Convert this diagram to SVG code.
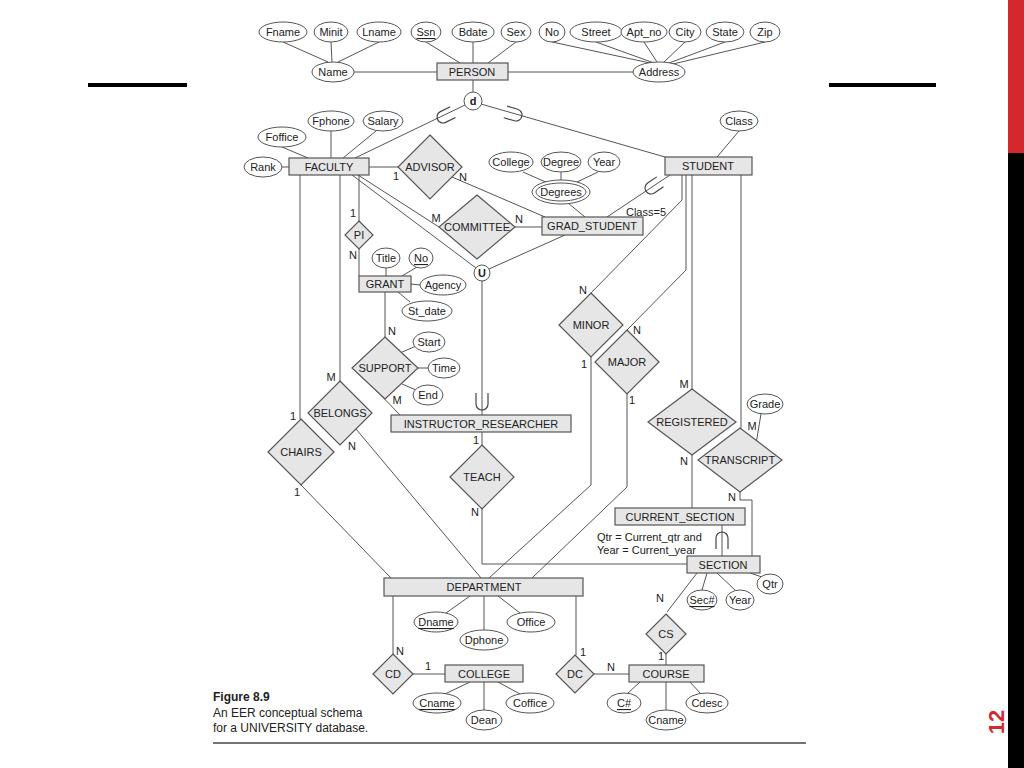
<svg xmlns="http://www.w3.org/2000/svg" width="1024" height="768" viewBox="0 0 1024 768">
<style>
text{font-family:"Liberation Sans",Arial,sans-serif;font-size:11px;fill:#222;text-anchor:middle;dominant-baseline:central}
.l{text-anchor:start}
.ent{fill:#e6e6e6;stroke:#555;stroke-width:1.2}
.rel{fill:#e6e6e6;stroke:#555;stroke-width:1.2}
.att{fill:#fff;stroke:#555;stroke-width:1}
line,polyline,path.c{stroke:#555;stroke-width:1;fill:none}
.u{stroke:#444;stroke-width:1.2;fill:none}
.card{font-size:10px}
</style>
<defs><path id="sub" d="M-6,-11 L-6,0 A6,6 0 0 0 6,0 L6,-11" class="u"/></defs>
<rect width="1024" height="768" fill="#fff"/>
<rect x="1008" y="0" width="16" height="153" fill="#d2282e"/>
<rect x="1008" y="153" width="16" height="615" fill="#000"/>
<text x="996" y="722" transform="rotate(-90 996 722)" style="font-size:22px;font-weight:bold;fill:#d2282e">12</text>
<rect x="88" y="83" width="99" height="4" fill="#000"/>
<rect x="829" y="83" width="107" height="4" fill="#000"/>
<g id="connectors">
<line x1="283" y1="42" x2="328" y2="62"/><line x1="331" y1="42" x2="332" y2="62"/><line x1="379" y1="42" x2="338" y2="62"/>
<line x1="426" y1="42" x2="460" y2="63"/><line x1="473" y1="42" x2="473" y2="63"/><line x1="516" y1="42" x2="488" y2="63"/>
<line x1="552" y1="42" x2="650" y2="63"/><line x1="596" y1="42" x2="654" y2="63"/><line x1="644" y1="42" x2="657" y2="62"/><line x1="685" y1="42" x2="664" y2="62"/><line x1="725" y1="42" x2="669" y2="63"/><line x1="765" y1="42" x2="673" y2="64"/>
<line x1="354" y1="72" x2="437" y2="72"/><line x1="508" y1="72" x2="633" y2="72"/>
<line x1="473" y1="80" x2="473" y2="92"/>
<line x1="465" y1="105" x2="355" y2="158"/><line x1="481" y1="104" x2="665" y2="157"/>
<line x1="282" y1="147" x2="308" y2="158"/><line x1="331" y1="131" x2="331" y2="158"/><line x1="376" y1="131" x2="343" y2="158"/><line x1="282" y1="167" x2="289" y2="167"/>
<line x1="739" y1="131" x2="717" y2="157"/>
<line x1="369" y1="167" x2="398" y2="167"/>
<line x1="452" y1="177" x2="545" y2="217"/>
<line x1="358" y1="175" x2="439" y2="227"/><line x1="515" y1="227" x2="542" y2="227"/>
<line x1="352" y1="175" x2="476" y2="268"/><line x1="565" y1="235" x2="489" y2="269"/>
<line x1="670" y1="175" x2="607" y2="217"/>
<line x1="523" y1="172" x2="548" y2="183"/><line x1="561" y1="172" x2="561" y2="181"/><line x1="598" y1="172" x2="575" y2="183"/>
<line x1="568" y1="203" x2="585" y2="217"/>
<line x1="482" y1="281" x2="482" y2="415"/>
<line x1="359" y1="175" x2="359" y2="221"/><line x1="359" y1="249" x2="359" y2="276"/>
<line x1="386" y1="268" x2="386" y2="276"/><line x1="417" y1="267" x2="402" y2="276"/><line x1="411" y1="284" x2="420" y2="285"/><line x1="398" y1="292" x2="410" y2="302"/>
<line x1="385" y1="292" x2="385" y2="337"/>
<line x1="400" y1="353" x2="416" y2="346"/><line x1="418" y1="368" x2="428" y2="368"/><line x1="402" y1="384" x2="416" y2="390"/>
<line x1="373" y1="387" x2="400" y2="415"/>
<line x1="340" y1="175" x2="340" y2="381"/><line x1="356" y1="429" x2="481" y2="578"/>
<line x1="300" y1="175" x2="300" y2="419"/><line x1="301" y1="485" x2="391" y2="578"/>
<line x1="482" y1="432" x2="482" y2="445"/>
<polyline points="482,509 482,564 687,564"/>
<polyline points="682,175 682,200 591,293"/><polyline points="591,357 591,485 489,578"/>
<polyline points="686,175 686,270 627,330"/><polyline points="627,394 627,487 532,578"/>
<line x1="692" y1="175" x2="692" y2="389"/><line x1="692" y1="455" x2="692" y2="508"/>
<line x1="741" y1="175" x2="741" y2="428"/><line x1="761" y1="414" x2="756" y2="444"/>
<polyline points="740,492 740,500 752,500 752,556"/>
<line x1="722" y1="525" x2="722" y2="556"/>
<line x1="697" y1="573" x2="667" y2="612"/><line x1="707" y1="573" x2="702" y2="590"/><line x1="717" y1="573" x2="735" y2="590"/><line x1="750" y1="573" x2="762" y2="577"/>
<line x1="666" y1="654" x2="666" y2="665"/>
<line x1="640" y1="682" x2="628" y2="693"/><line x1="666" y1="682" x2="666" y2="710"/><line x1="690" y1="682" x2="700" y2="693"/>
<line x1="576" y1="596" x2="576" y2="655"/><line x1="594" y1="674" x2="629" y2="674"/>
<line x1="393" y1="596" x2="393" y2="654"/><line x1="413" y1="674" x2="445" y2="674"/>
<line x1="470" y1="682" x2="445" y2="694"/><line x1="484" y1="682" x2="484" y2="710"/><line x1="498" y1="682" x2="520" y2="694"/>
<line x1="470" y1="596" x2="446" y2="613"/><line x1="484" y1="596" x2="484" y2="630"/><line x1="498" y1="596" x2="520" y2="613"/>
<use href="#sub" transform="translate(443 117) rotate(64)"/>
<use href="#sub" transform="translate(516 115) rotate(-74)"/>
<use href="#sub" transform="translate(651 188) rotate(56)"/>
<use href="#sub" transform="translate(482 404)"/>
<use href="#sub" transform="translate(722 538) rotate(180)"/>
</g>
<g id="attributes">
<ellipse class="att" cx="283" cy="32" rx="24" ry="10"/><text x="283" y="32">Fname</text>
<ellipse class="att" cx="331" cy="32" rx="17" ry="10"/><text x="331" y="32">Minit</text>
<ellipse class="att" cx="379" cy="32" rx="22" ry="10"/><text x="379" y="32">Lname</text>
<ellipse class="att" cx="426" cy="32" rx="15" ry="10"/><text x="426" y="32" text-decoration="underline">Ssn</text>
<ellipse class="att" cx="473" cy="32" rx="21" ry="10"/><text x="473" y="32">Bdate</text>
<ellipse class="att" cx="516" cy="32" rx="15" ry="10"/><text x="516" y="32">Sex</text>
<ellipse class="att" cx="552" cy="32" rx="13" ry="10"/><text x="552" y="32">No</text>
<ellipse class="att" cx="596" cy="32" rx="26" ry="10"/><text x="596" y="32">Street</text>
<ellipse class="att" cx="644" cy="32" rx="23" ry="10"/><text x="644" y="32">Apt_no</text>
<ellipse class="att" cx="685" cy="32" rx="16" ry="10"/><text x="685" y="32">City</text>
<ellipse class="att" cx="725" cy="32" rx="19" ry="10"/><text x="725" y="32">State</text>
<ellipse class="att" cx="765" cy="32" rx="15" ry="10"/><text x="765" y="32">Zip</text>
<ellipse class="att" cx="333" cy="72" rx="21" ry="10"/><text x="333" y="72">Name</text>
<ellipse class="att" cx="659" cy="72" rx="26" ry="10"/><text x="659" y="72">Address</text>
<ellipse class="att" cx="263" cy="167" rx="19" ry="10"/><text x="263" y="167">Rank</text>
<ellipse class="att" cx="282" cy="137" rx="24" ry="10"/><text x="282" y="137">Foffice</text>
<ellipse class="att" cx="331" cy="121" rx="23" ry="10"/><text x="331" y="121">Fphone</text>
<ellipse class="att" cx="383" cy="121" rx="20" ry="10"/><text x="383" y="121">Salary</text>
<ellipse class="att" cx="739" cy="121" rx="19" ry="10"/><text x="739" y="121">Class</text>
<ellipse class="att" cx="511" cy="162" rx="22" ry="10"/><text x="511" y="162">College</text>
<ellipse class="att" cx="561" cy="162" rx="20" ry="10"/><text x="561" y="162">Degree</text>
<ellipse class="att" cx="604" cy="162" rx="16" ry="10"/><text x="604" y="162">Year</text>
<ellipse class="att" cx="561" cy="192" rx="29" ry="12"/><ellipse class="att" cx="561" cy="192" rx="25" ry="9"/><text x="561" y="192">Degrees</text>
<ellipse class="att" cx="386" cy="258" rx="14" ry="10"/><text x="386" y="258">Title</text>
<ellipse class="att" cx="421" cy="258" rx="12" ry="10"/><text x="421" y="258" text-decoration="underline">No</text>
<ellipse class="att" cx="443" cy="285" rx="23" ry="10"/><text x="443" y="285">Agency</text>
<ellipse class="att" cx="427" cy="311" rx="25" ry="10"/><text x="427" y="311">St_date</text>
<ellipse class="att" cx="429" cy="342" rx="16" ry="10"/><text x="429" y="342">Start</text>
<ellipse class="att" cx="444" cy="368" rx="16" ry="10"/><text x="444" y="368">Time</text>
<ellipse class="att" cx="428" cy="395" rx="15" ry="10"/><text x="428" y="395">End</text>
<ellipse class="att" cx="765" cy="404" rx="18" ry="10"/><text x="765" y="404">Grade</text>
<ellipse class="att" cx="702" cy="600" rx="15" ry="10"/><text x="702" y="600" text-decoration="underline">Sec#</text>
<ellipse class="att" cx="740" cy="600" rx="14" ry="10"/><text x="740" y="600">Year</text>
<ellipse class="att" cx="770" cy="584" rx="13" ry="10"/><text x="770" y="584">Qtr</text>
<ellipse class="att" cx="436" cy="622" rx="22" ry="10"/><text x="436" y="622" text-decoration="underline">Dname</text>
<ellipse class="att" cx="484" cy="640" rx="24" ry="10"/><text x="484" y="640">Dphone</text>
<ellipse class="att" cx="531" cy="622" rx="24" ry="10"/><text x="531" y="622">Office</text>
<ellipse class="att" cx="437" cy="703" rx="24" ry="10"/><text x="437" y="703" text-decoration="underline">Cname</text>
<ellipse class="att" cx="484" cy="720" rx="18" ry="10"/><text x="484" y="720">Dean</text>
<ellipse class="att" cx="530" cy="703" rx="24" ry="10"/><text x="530" y="703">Coffice</text>
<ellipse class="att" cx="624" cy="703" rx="17" ry="10"/><text x="624" y="703" text-decoration="underline">C#</text>
<ellipse class="att" cx="666" cy="720" rx="20" ry="10"/><text x="666" y="720">Cname</text>
<ellipse class="att" cx="707" cy="703" rx="21" ry="10"/><text x="707" y="703">Cdesc</text>
</g>
<g id="PERSON"><rect class="ent" x="437" y="63" width="71" height="17"/><text x="472" y="72">PERSON</text></g>
<g id="d"><circle class="att" cx="473" cy="101" r="9"/><text x="473" y="101" style="font-weight:bold">d</text></g>
<g id="U"><circle class="att" cx="482" cy="273" r="8"/><text x="482" y="273" style="font-weight:bold">U</text></g>
<g id="FACULTY"><rect class="ent" x="289" y="158" width="80" height="17"/><text x="329" y="167">FACULTY</text></g>
<g id="STUDENT"><rect class="ent" x="665" y="157" width="87" height="18"/><text x="708" y="166">STUDENT</text></g>
<g id="GRAD_STUDENT"><rect class="ent" x="542" y="217" width="101" height="18"/><text x="592" y="226">GRAD_STUDENT</text></g>
<g id="GRANT"><rect class="ent" x="359" y="276" width="52" height="16"/><text x="385" y="284">GRANT</text></g>
<g id="INSTRUCTOR_RESEARCHER"><rect class="ent" x="391" y="415" width="180" height="17"/><text x="481" y="424">INSTRUCTOR_RESEARCHER</text></g>
<g id="CURRENT_SECTION"><rect class="ent" x="615" y="508" width="130" height="17"/><text x="680" y="517">CURRENT_SECTION</text></g>
<g id="SECTION"><rect class="ent" x="687" y="556" width="73" height="17"/><text x="723" y="565">SECTION</text></g>
<g id="DEPARTMENT"><rect class="ent" x="384" y="578" width="199" height="18"/><text x="484" y="587">DEPARTMENT</text></g>
<g id="COLLEGE"><rect class="ent" x="445" y="665" width="78" height="17"/><text x="484" y="674">COLLEGE</text></g>
<g id="COURSE"><rect class="ent" x="629" y="665" width="75" height="17"/><text x="666" y="674">COURSE</text></g>
<g id="ADVISOR"><polygon class="rel" points="430,135 462,167 430,199 398,167"/><text x="430" y="167">ADVISOR</text></g>
<g id="COMMITTEE"><polygon class="rel" points="477,195 515,227 477,259 439,227"/><text x="477" y="227">COMMITTEE</text></g>
<g id="PI"><polygon class="rel" points="359,221 373,235 359,249 345,235"/><text x="359" y="235">PI</text></g>
<g id="SUPPORT"><polygon class="rel" points="385,337 418,368 385,399 352,368"/><text x="385" y="368">SUPPORT</text></g>
<g id="BELONGS"><polygon class="rel" points="340,381 372,413 340,445 308,413"/><text x="340" y="413">BELONGS</text></g>
<g id="CHAIRS"><polygon class="rel" points="301,419 334,452 301,485 268,452"/><text x="301" y="452">CHAIRS</text></g>
<g id="TEACH"><polygon class="rel" points="482,445 514,477 482,509 450,477"/><text x="482" y="477">TEACH</text></g>
<g id="MINOR"><polygon class="rel" points="591,293 623,325 591,357 559,325"/><text x="591" y="325">MINOR</text></g>
<g id="MAJOR"><polygon class="rel" points="627,330 659,362 627,394 595,362"/><text x="627" y="362">MAJOR</text></g>
<g id="REGISTERED"><polygon class="rel" points="692,389 736,422 692,455 648,422"/><text x="692" y="422">REGISTERED</text></g>
<g id="TRANSCRIPT"><polygon class="rel" points="740,428 782,460 740,492 698,460"/><text x="740" y="460">TRANSCRIPT</text></g>
<g id="CS"><polygon class="rel" points="666,614 686,634 666,654 646,634"/><text x="666" y="634">CS</text></g>
<g id="DC"><polygon class="rel" points="575,655 594,674 575,693 556,674"/><text x="575" y="674">DC</text></g>
<g id="CD"><polygon class="rel" points="393,654 413,674 393,694 373,674"/><text x="393" y="674">CD</text></g>
<g id="labels" class="card">
<text x="396" y="176">1</text><text x="463" y="177">N</text>
<text x="436" y="218">M</text><text x="519" y="219">N</text>
<text x="353" y="213">1</text><text x="353" y="255">N</text>
<text x="392" y="331">N</text><text x="397" y="400">M</text>
<text x="331" y="377">M</text><text x="352" y="446">N</text>
<text x="293" y="416">1</text><text x="297" y="492">1</text>
<text x="476" y="440">1</text><text x="475" y="512">N</text>
<text x="583" y="290">N</text><text x="584" y="364">1</text>
<text x="637" y="330">N</text><text x="632" y="400">1</text>
<text x="684" y="384">M</text><text x="684" y="461">N</text>
<text x="752" y="426">M</text><text x="732" y="497">N</text>
<text x="660" y="598">N</text><text x="661" y="656">1</text>
<text x="583" y="652">1</text><text x="611" y="667">N</text>
<text x="400" y="651">N</text><text x="428" y="666">1</text>
<text x="646" y="212" style="font-size:11px">Class=5</text>
<text class="l" x="597" y="537" style="font-size:11px">Qtr = Current_qtr and</text>
<text class="l" x="597" y="550" style="font-size:11px">Year = Current_year</text>
</g>
<g id="caption">
<text class="l" x="213" y="697" style="font-weight:bold;font-size:12px">Figure 8.9</text>
<text class="l" x="213" y="713" style="font-size:12px">An EER conceptual schema</text>
<text class="l" x="213" y="728" style="font-size:12px">for a UNIVERSITY database.</text>
<line x1="213" y1="743" x2="806" y2="743" style="stroke:#444;stroke-width:1.5"/>
</g>
</svg>
